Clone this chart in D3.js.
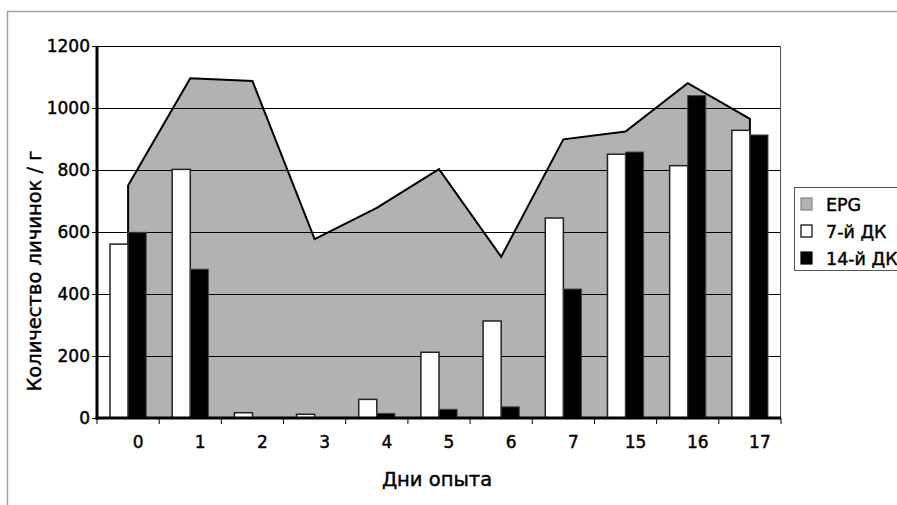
<!DOCTYPE html>
<html><head><meta charset="utf-8">
<script src="https://cdn.jsdelivr.net/npm/d3@7"></script>
<style>body{margin:0;background:#fff}svg{display:block}text{font-family:"DejaVu Sans",sans-serif}</style>
</head><body>
<svg id="c" width="897" height="505"></svg>
<script>
const categories = ["0","1","2","3","4","5","6","7","15","16","17"];
const epg = [750,1096,1087,577,678,803,520,899,924,1080,965];
const dk7 = [561,802,17,12,60,212,313,645,851,814,928];
const dk14 = [599,480,0,0,15,28,36,416,858,1040,913];
const yTicks = [0,200,400,600,800,1000,1200];
const seriesNames = ["EPG","7-й ДК","14-й ДК"];

const svg = d3.select("#c");
const L=97, R=781, T=46, B=418;
const FONT = "DejaVu Sans, sans-serif";
const x = d3.scaleBand().domain(categories).range([L,R]).padding(0);
const y = d3.scaleLinear().domain([0,1200]).range([B,T]);
const inner = d3.scaleBand().domain(["dk7","dk14"]).range([0,x.bandwidth()]).paddingInner(0).paddingOuter(0.72);
const cx = c => x(c)+x.bandwidth()/2;

// outer frame
svg.append("path").attr("d","M7.5,505V11.5H897").attr("fill","none").attr("stroke","#a0a0a0").attr("stroke-width",1.5);

// area
const area = d3.area().x((d,i)=>cx(categories[i])).y0(y(0)).y1(d=>y(d));
svg.append("path").datum(epg).attr("d",area).attr("fill","#b2b2b2").attr("stroke","#000").attr("stroke-width",2).attr("stroke-linejoin","miter");

// gridlines
svg.append("g").selectAll("line").data(yTicks.filter(v=>v>0)).join("line")
  .attr("x1",L).attr("x2",R).attr("y1",d=>y(d)+0.5).attr("y2",d=>y(d)+0.5).attr("stroke","#000").attr("stroke-width",1);
// right border of plot
svg.append("line").attr("x1",R-0.5).attr("x2",R-0.5).attr("y1",T).attr("y2",B).attr("stroke","#555").attr("stroke-width",1);

// bars
const g = svg.append("g");
g.selectAll(".w").data(dk7).join("rect").attr("class","w")
  .attr("x",(d,i)=>x(categories[i])+inner("dk7")).attr("width",inner.bandwidth())
  .attr("y",d=>y(d)).attr("height",d=>y(0)-y(d))
  .attr("fill","#fff").attr("stroke","#222").attr("stroke-width",1.5);
g.selectAll(".k").data(dk14).join("rect").attr("class","k")
  .attr("x",(d,i)=>x(categories[i])+inner("dk14")).attr("width",inner.bandwidth())
  .attr("y",d=>y(d)).attr("height",d=>y(0)-y(d))
  .attr("fill","#000").attr("stroke","#444").attr("stroke-width",1);

function styleText(sel, size){
  sel.attr("font-size",size).attr("fill","#000").attr("stroke","#000").attr("stroke-width",0.45).attr("font-family",FONT);
}

// y axis
const ya = svg.append("g").attr("transform",`translate(${L},0)`)
  .call(d3.axisLeft(y).tickValues(yTicks).tickSize(5).tickPadding(2).tickFormat(d3.format("d")));
ya.select(".domain").remove();
ya.selectAll(".tick line").attr("stroke","#000");
styleText(ya.selectAll(".tick text"),17);
svg.append("line").attr("x1",L).attr("x2",L).attr("y1",T).attr("y2",B+1.5).attr("stroke","#000").attr("stroke-width",3);

// x axis
svg.append("line").attr("x1",L-1.5).attr("x2",R).attr("y1",B).attr("y2",B).attr("stroke","#000").attr("stroke-width",3);
const xt = categories.map(c=>x(c)).concat([R]);
svg.append("g").selectAll("line").data(xt).join("line")
  .attr("x1",d=>d).attr("x2",d=>d).attr("y1",B).attr("y2",B+6).attr("stroke","#000").attr("stroke-width",1);
const xa = svg.append("g").attr("transform",`translate(10,${B})`)
  .call(d3.axisBottom(x).tickSize(0).tickPadding(18));
xa.select(".domain").remove();
styleText(xa.selectAll(".tick text"),17);

// axis titles
styleText(svg.append("text").attr("x",437).attr("y",486).attr("text-anchor","middle").text("Дни опыта"),19.5);
styleText(svg.append("text").attr("transform","translate(41,271) rotate(-90)").attr("text-anchor","middle").text("Количество личинок / г"),19.5);

// legend
const lg = svg.append("g");
lg.append("rect").attr("x",794.5).attr("y",187.5).attr("width",120).attr("height",83).attr("fill","#fff").attr("stroke","#555").attr("stroke-width",1);
const fills = ["#b2b2b2","#fff","#000"];
seriesNames.forEach((n,i)=>{
  const yy = 198 + i*27;
  lg.append("rect").attr("x",801).attr("y",yy).attr("width",11).attr("height",12).attr("fill",fills[i]).attr("stroke",i==0?"#888":"#000").attr("stroke-width",1.2);
  styleText(lg.append("text").attr("x",826).attr("y",yy+12.5).text(n),17.5);
});
</script>
</body></html>
